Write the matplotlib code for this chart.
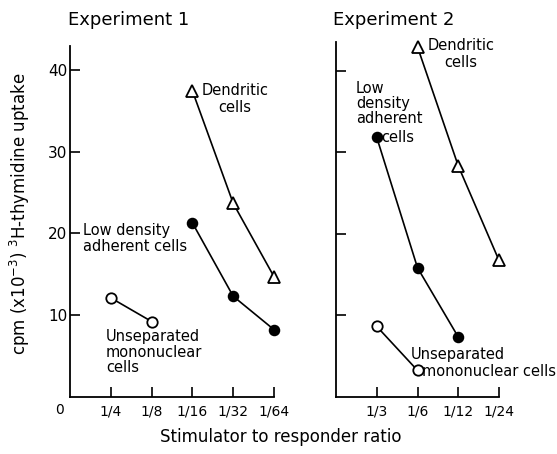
import matplotlib
matplotlib.use("Agg")
import matplotlib.pyplot as plt

# ---- data ----
exp1_ratios = ['1/4', '1/8', '1/16', '1/32', '1/64']
exp1_dendritic_x = ['1/16', '1/32', '1/64']
exp1_dendritic = [37.5, 23.7, 14.7]
exp1_lowdens_x = ['1/16', '1/32', '1/64']
exp1_lowdens = [21.3, 12.3, 8.2]
exp1_unsep_x = ['1/4', '1/8']
exp1_unsep = [12.1, 9.2]

exp2_ratios = ['1/3', '1/6', '1/12', '1/24']
exp2_dendritic_x = ['1/6', '1/12', '1/24']
exp2_dendritic = [42.9, 28.3, 16.7]
exp2_lowdens_x = ['1/3', '1/6', '1/12']
exp2_lowdens = [31.8, 15.8, 7.3]
exp2_unsep_x = ['1/3', '1/6']
exp2_unsep = [8.6, 3.2]

yticks = [10, 20, 30, 40]

W, H = 557, 454
fig = plt.figure(figsize=(W / 100, H / 100), dpi=100)
plt.rcParams['font.family'] = ['DejaVu Sans']

def px_axes(x0, x1, ytop, ybot):
    return fig.add_axes([x0 / W, (H - ybot) / H, (x1 - x0) / W, (ybot - ytop) / H])

ax1 = px_axes(70, 274, 46, 396.5)
ax2 = px_axes(336, 499, 42, 396.5)

def style(ax, ratios, ylim_top, show_ylabels):
    ax.set_xlim(0, len(ratios))
    ax.set_ylim(0, ylim_top)
    for s in ['top', 'right']:
        ax.spines[s].set_visible(False)
    for s in ['left', 'bottom']:
        ax.spines[s].set_linewidth(1.3)
    ax.set_xticks(range(1, len(ratios) + 1))
    ax.set_xticklabels(ratios, fontsize=10)
    ax.set_yticks(yticks)
    if show_ylabels:
        ax.set_yticklabels([str(v) for v in yticks], fontsize=11)
    else:
        ax.set_yticklabels([])
    ax.tick_params(direction='in', length=7, width=1.2)
    ax.tick_params(axis='x', pad=6)
    ax.tick_params(axis='y', pad=2)

def pos(ratios, xs):
    return [ratios.index(r) + 1 for r in xs]

lw = 1.2
ms = 7

def draw(ax, ratios, xs, ys, marker, filled, size):
    ax.plot(pos(ratios, xs), ys, '-', marker=marker, color='black', lw=lw,
            ms=size, mfc='black' if filled else 'white', mec='black', mew=1.3,
            clip_on=False, zorder=3)

# Experiment 1
draw(ax1, exp1_ratios, exp1_dendritic_x, exp1_dendritic, '^', False, ms + 1)
draw(ax1, exp1_ratios, exp1_lowdens_x, exp1_lowdens, 'o', True, ms)
draw(ax1, exp1_ratios, exp1_unsep_x, exp1_unsep, 'o', False, ms + 0.5)
style(ax1, exp1_ratios, 43, True)

# Experiment 2
draw(ax2, exp2_ratios, exp2_dendritic_x, exp2_dendritic, '^', False, ms + 1)
draw(ax2, exp2_ratios, exp2_lowdens_x, exp2_lowdens, 'o', True, ms)
draw(ax2, exp2_ratios, exp2_unsep_x, exp2_unsep, 'o', False, ms + 0.5)
style(ax2, exp2_ratios, 43.5, False)

fs = 10.5
# annotations, experiment 1
ax1.text(4.04, 36.5, 'Dendritic\ncells', ha='center', va='center', fontsize=fs, linespacing=1.15)
ax1.text(0.32, 19.4, 'Low density\nadherent cells', ha='left', va='center', fontsize=fs, linespacing=1.1)
ax1.text(0.88, 5.45, 'Unseparated\nmononuclear\ncells', ha='left', va='center', fontsize=fs, linespacing=1.05)

# annotations, experiment 2
ax2.text(3.07, 42.0, 'Dendritic\ncells', ha='center', va='center', fontsize=fs, linespacing=1.15)
ax2.text(0.49, 35.9, 'Low\ndensity\nadherent', ha='left', va='center', fontsize=fs, linespacing=1.0)
ax2.text(1.10, 31.8, 'cells', ha='left', va='center', fontsize=fs)
ax2.text(1.84, 5.1, 'Unseparated', ha='left', va='center', fontsize=fs)
ax2.text(2.11, 3.1, 'mononuclear cells', ha='left', va='center', fontsize=fs)

# titles and labels
fig.text(68 / W, 1 - 20 / H, 'Experiment 1', ha='left', va='center', fontsize=13)
fig.text(333 / W, 1 - 20 / H, 'Experiment 2', ha='left', va='center', fontsize=13)
fig.text(60 / W, 1 - 410 / H, '0', ha='center', va='center', fontsize=10)
fig.text(20 / W, 1 - 214 / H, 'cpm (x10$^{-3}$) $^{3}$H-thymidine uptake', rotation=90,
         ha='center', va='center', fontsize=12)
fig.text(281 / W, 1 - 437 / H, 'Stimulator to responder ratio', ha='center', va='center', fontsize=12)

fig.savefig('out.png', dpi=100)
